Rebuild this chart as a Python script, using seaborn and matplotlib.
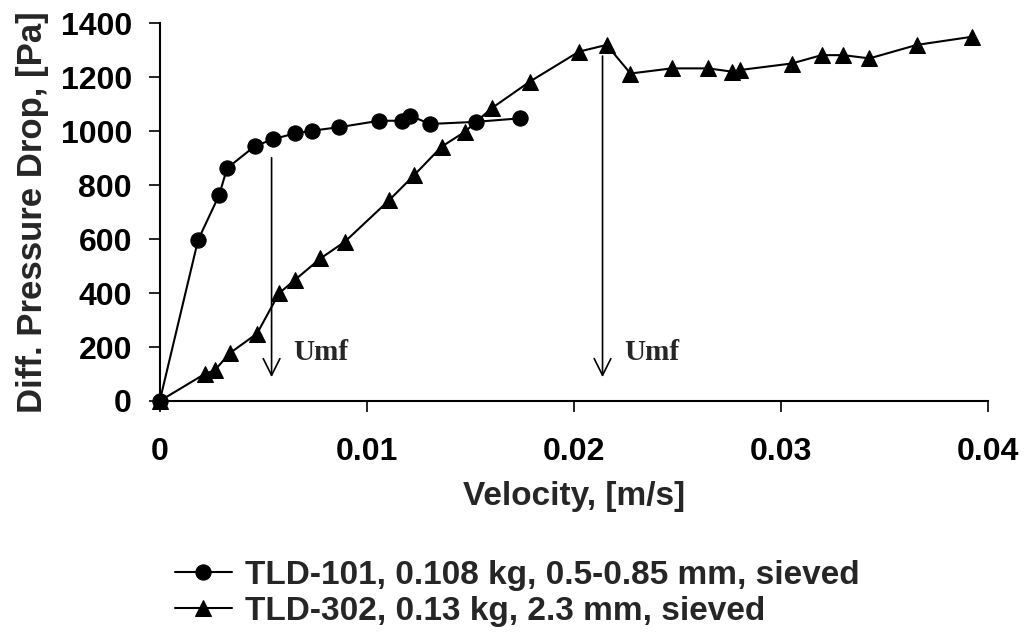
import matplotlib
matplotlib.use("Agg")
import matplotlib.pyplot as plt
import seaborn as sns
import pandas as pd

# Fluidization curves: pressure drop across the bed vs superficial velocity
tld101_velocity = [0, 0.00185, 0.00287, 0.00325, 0.00459, 0.00548, 0.00652, 0.00733,
                   0.00865, 0.0106, 0.0117, 0.0121, 0.01304, 0.01527, 0.01739]
tld101_dp = [0, 596, 763, 862, 944, 970, 991, 1001, 1014, 1038, 1038, 1057, 1026, 1034, 1047]

tld302_velocity = [0, 0.00217, 0.00266, 0.00338, 0.0047, 0.00576, 0.00652, 0.00776,
                   0.00894, 0.01108, 0.01229, 0.01361, 0.01473, 0.01602, 0.01787,
                   0.02024, 0.02158, 0.02273, 0.02472, 0.02649, 0.02762, 0.02802,
                   0.03051, 0.03196, 0.03301, 0.03427, 0.03656, 0.03921]
tld302_dp = [0, 100, 114, 177, 250, 399, 448, 528, 590, 744, 837, 942, 997, 1084, 1183,
             1294, 1319, 1213, 1232, 1232, 1220, 1226, 1250, 1281, 1281, 1269, 1319, 1349]

series_labels = ["TLD-101, 0.108 kg, 0.5-0.85 mm, sieved",
                 "TLD-302, 0.13 kg, 2.3 mm, sieved"]

# Minimum fluidization velocity markers: (velocity, arrow top, arrow tip)
umf_velocity = [0.0054, 0.02138]
umf_top = [911, 1288]
umf_tip = [78, 78]

x_ticks = [0, 0.01, 0.02, 0.03, 0.04]
x_tick_labels = ["0", "0.01", "0.02", "0.03", "0.04"]
y_ticks = [0, 200, 400, 600, 800, 1000, 1200, 1400]

df = pd.concat([
    pd.DataFrame({"Velocity": tld101_velocity, "dP": tld101_dp, "Sample": series_labels[0]}),
    pd.DataFrame({"Velocity": tld302_velocity, "dP": tld302_dp, "Sample": series_labels[1]}),
], ignore_index=True)

sns.set_style("ticks")
plt.rcParams["font.family"] = ["Liberation Sans", "DejaVu Sans"]

fig = plt.figure(figsize=(10.24, 6.36), dpi=100)
ax = fig.add_axes([0.156, 0.3695, 0.809, 0.5943])

sns.lineplot(data=df, x="Velocity", y="dP", hue="Sample", style="Sample",
             palette=["black", "black"], markers=["o", "^"], dashes=False,
             sort=False, linewidth=1.5, markersize=11, markeredgecolor="black",
             clip_on=False, ax=ax)

for v, top, tip in zip(umf_velocity, umf_top, umf_tip):
    ax.annotate("", xy=(v, tip), xytext=(v, top),
                arrowprops=dict(arrowstyle="->", color="black", lw=1.2,
                                mutation_scale=30))
    ax.text(v + 0.00105, tip + 100, "Umf", family="Liberation Serif",
            fontsize=21, fontweight="bold", ha="left", va="center")

ax.set_xlim(0, 0.04)
ax.set_ylim(0, 1400)
ax.set_xticks(x_ticks)
ax.set_xticklabels(x_tick_labels)
ax.set_yticks(y_ticks)
ax.tick_params(axis="both", length=8, width=1.2, labelsize=23, colors="black")
ax.tick_params(axis="x", pad=18)
ax.tick_params(axis="y", pad=12)
for lab in ax.get_xticklabels() + ax.get_yticklabels():
    lab.set_fontweight("bold")
sns.despine(ax=ax)
for side in ("left", "bottom"):
    ax.spines[side].set_linewidth(1.5)
    ax.spines[side].set_color("black")

ax.set_xlabel("Velocity, [m/s]", fontsize=24, fontweight="bold", labelpad=10)
ax.set_ylabel("Diff. Pressure Drop, [Pa]", fontsize=25, fontweight="bold", labelpad=8)

handles, labels = ax.get_legend_handles_labels()
ax.get_legend().remove()
fig.legend(handles, labels, loc="upper left", bbox_to_anchor=(0.158, 0.141),
           frameon=False, handlelength=1.7, handletextpad=0.4,
           labelspacing=0.15, borderaxespad=0, prop={"weight": "bold", "size": 24})

fig.savefig("out.png", dpi=100)
